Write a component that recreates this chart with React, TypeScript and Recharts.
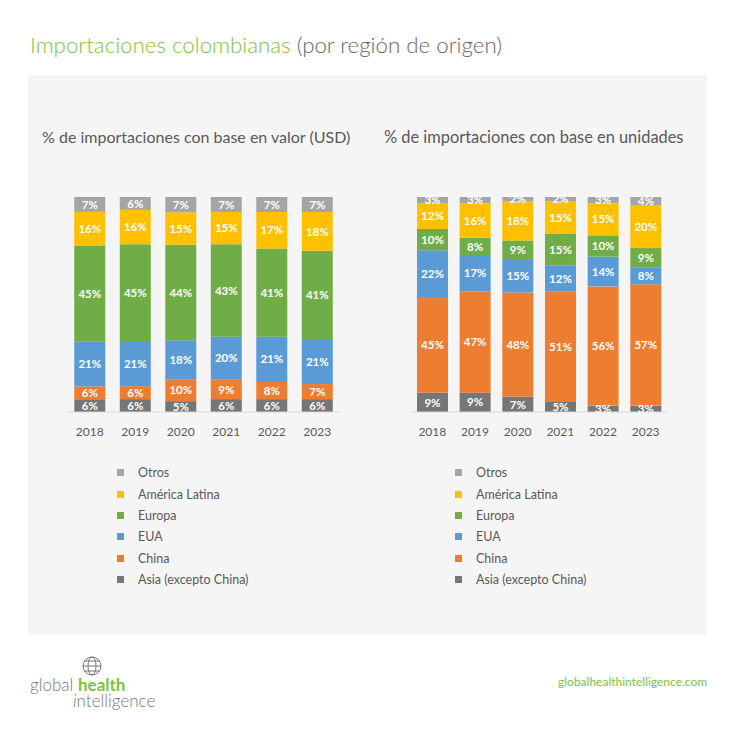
import { BarChart, Bar, XAxis, YAxis, LabelList } from "recharts";

const years = ["2018", "2019", "2020", "2021", "2022", "2023"];

// % de importaciones con base en valor (USD)
const asiaValor = [6, 6, 5, 6, 6, 6];
const chinaValor = [6, 6, 10, 9, 8, 7];
const euaValor = [21, 21, 18, 20, 21, 21];
const europaValor = [45, 45, 44, 43, 41, 41];
const latamValor = [16, 16, 15, 15, 17, 18];
const otrosValor = [7, 6, 7, 7, 7, 7];

// % de importaciones con base en unidades
const asiaUnid = [9, 9, 7, 5, 3, 3];
const chinaUnid = [45, 47, 48, 51, 56, 57];
const euaUnid = [22, 17, 15, 12, 14, 8];
const europaUnid = [10, 8, 9, 15, 10, 9];
const latamUnid = [12, 16, 18, 15, 15, 20];
const otrosUnid = [3, 3, 2, 2, 3, 4];

const series = [
  { key: "asia", name: "Asia (excepto China)", color: "#767676" },
  { key: "china", name: "China", color: "#ed7d31" },
  { key: "eua", name: "EUA", color: "#5b9bd5" },
  { key: "europa", name: "Europa", color: "#70ad47" },
  { key: "latam", name: "América Latina", color: "#ffc000" },
  { key: "otros", name: "Otros", color: "#a5a5a5" },
];

const valorSets: Record<string, number[]> = {
  asia: asiaValor,
  china: chinaValor,
  eua: euaValor,
  europa: europaValor,
  latam: latamValor,
  otros: otrosValor,
};

const unidSets: Record<string, number[]> = {
  asia: asiaUnid,
  china: chinaUnid,
  eua: euaUnid,
  europa: europaUnid,
  latam: latamUnid,
  otros: otrosUnid,
};

const buildRows = (sets: Record<string, number[]>) =>
  years.map((year, i) => {
    const row: Record<string, string | number> = { year };
    series.forEach((s) => {
      row[s.key] = sets[s.key][i];
    });
    return row;
  });

const FONT = "Lato, 'Open Sans', sans-serif";

const makeLabel = (values: number[]) => (props: any) => {
  const { x, y, width, height, index } = props;
  return (
    <text
      x={Number(x) + Number(width) / 2}
      y={Number(y) + Number(height) / 2}
      dy="0.36em"
      textAnchor="middle"
      fill="#ffffff"
      fontSize={11.5}
      fontWeight={700}
      fontFamily={FONT}
    >
      {values[index]}%
    </text>
  );
};

interface StackProps {
  sets: Record<string, number[]>;
  width: number;
  margin: { top: number; right: number; bottom: number; left: number };
  gap: string;
}

const StackChart: React.FC<StackProps> = ({ sets, width, margin, gap }) => {
  return (
    <BarChart
      width={width}
      height={260}
      data={buildRows(sets)}
      stackOffset="expand"
      margin={margin}
      barCategoryGap={gap}
    >
      <XAxis
        dataKey="year"
        tickLine={false}
        axisLine={{ stroke: "#d9d9d9" }}
        tick={{ fill: "#595959", fontSize: 12, fontFamily: FONT }}
        tickMargin={9}
        height={30}
      />
      <YAxis hide domain={[0, 1]} />
      {series.map((s) => (
        <Bar key={s.key} dataKey={s.key} stackId="a" fill={s.color} isAnimationActive={false}>
          <LabelList dataKey={s.key} content={makeLabel(sets[s.key])} />
        </Bar>
      ))}
    </BarChart>
  );
};

const LegendBlock: React.FC<{ left: number; top: number }> = ({ left, top }) => (
  <div style={{ position: "absolute", left, top, fontFamily: FONT, fontSize: 12.5, color: "#595959" }}>
    {[...series].reverse().map((s) => (
      <div key={s.key} style={{ display: "flex", alignItems: "center", height: 21.4 }}>
        <span style={{ display: "inline-block", width: 7, height: 7, background: s.color, marginRight: 14 }} />
        <span>{s.name}</span>
      </div>
    ))}
  </div>
);

export default function App() {
  return (
    <div style={{ position: "absolute", left: 0, top: 0, width: 736, height: 737, background: "#fff", fontFamily: FONT }}>
      <div style={{ position: "absolute", left: 30, top: 31, fontSize: 22.3, fontWeight: 300, whiteSpace: "nowrap" }}>
        <span style={{ color: "#7dc243" }}>Importaciones colombianas</span>
        <span style={{ color: "#666" }}> (por región de origen)</span>
      </div>

      <div style={{ position: "absolute", left: 28, top: 75, width: 679, height: 560, background: "#f5f5f5" }} />

      <div style={{ position: "absolute", left: 42, top: 127, fontSize: 16, color: "#595959", whiteSpace: "nowrap" }}>
        % de importaciones con base en valor (USD)
      </div>
      <div style={{ position: "absolute", left: 384, top: 127, fontSize: 16.4, color: "#595959", whiteSpace: "nowrap" }}>
        % de importaciones con base en unidades
      </div>

      <div style={{ position: "absolute", left: 50, top: 185 }}>
        <StackChart sets={valorSets} width={300} margin={{ top: 12, right: 10, bottom: 3, left: 17 }} gap="16%" />
      </div>
      <div style={{ position: "absolute", left: 395, top: 185 }}>
        <StackChart sets={unidSets} width={290} margin={{ top: 12, right: 18, bottom: 3, left: 16 }} gap="14%" />
      </div>

      <LegendBlock left={117} top={462} />
      <LegendBlock left={455} top={462} />

      <svg style={{ position: "absolute", left: 20, top: 650 }} width={160} height={62}>
        <g stroke="#777" strokeWidth={1} fill="none">
          <circle cx={72} cy={16} r={9} />
          <ellipse cx={72} cy={16} rx={4} ry={9} />
          <line x1={63} y1={16} x2={81} y2={16} />
          <line x1={64} y1={11} x2={80} y2={11} />
          <line x1={64} y1={21} x2={80} y2={21} />
        </g>
        <text x={10} y={41} fontSize={17} fontFamily={FONT} fontWeight={300} fill="#777">
          global
        </text>
        <text x={58} y={41} fontSize={17} fontFamily={FONT} fontWeight={700} fill="#7dc243">
          health
        </text>
        <text x={53} y={57} fontSize={17} fontFamily={FONT} fontWeight={300} fill="#777">
          <tspan fontStyle="italic">i</tspan>ntelligence
        </text>
      </svg>

      <div style={{ position: "absolute", left: 558, top: 674, fontSize: 12, color: "#7dc243", whiteSpace: "nowrap" }}>
        globalhealthintelligence.com
      </div>
    </div>
  );
}
